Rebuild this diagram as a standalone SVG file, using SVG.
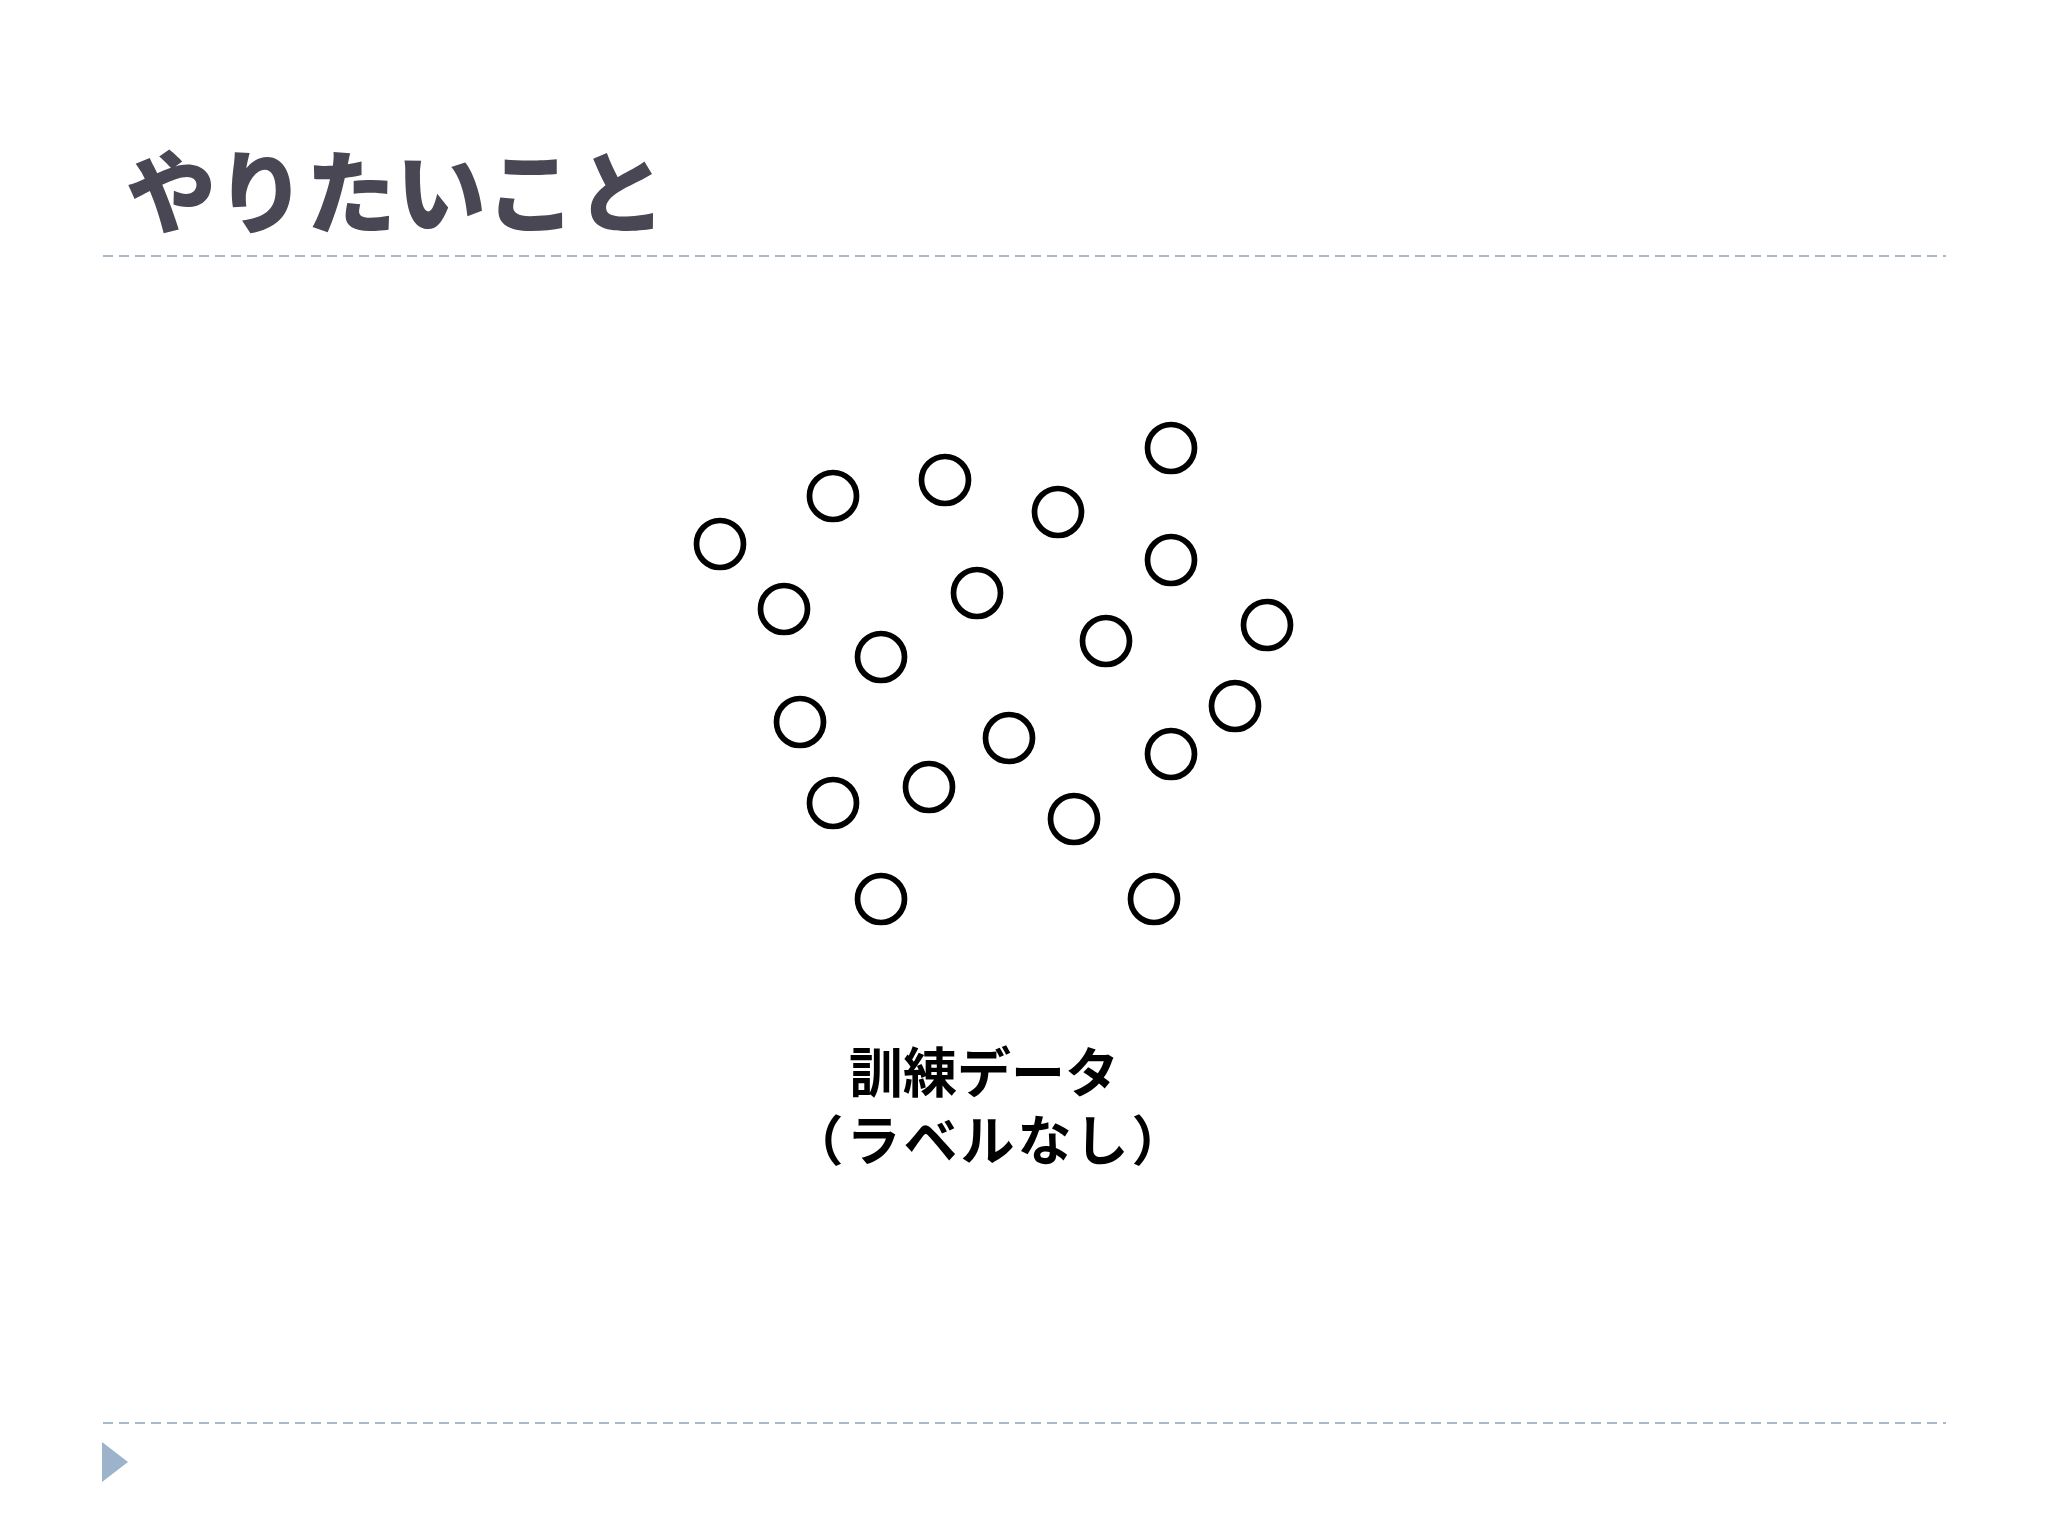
<svg xmlns="http://www.w3.org/2000/svg" width="2048" height="1536" viewBox="0 0 2048 1536">
<style>
.title{font-family:"Noto Sans CJK JP","Noto Sans",sans-serif;font-weight:900;font-size:90px;fill:#484753}
.lbl{font-family:"Noto Sans CJK JP","Noto Sans",sans-serif;font-weight:700;font-size:54px;fill:#000;text-anchor:middle}
.rule{stroke:#a9b9c9;stroke-width:2;stroke-dasharray:10 6;fill:none}
.pt{fill:none;stroke:#000;stroke-width:5.7}
</style>
<rect width="2048" height="1536" fill="#fff"/>
<text class="title" x="126" y="226">やりたいこと</text>
<line class="rule" x1="103" y1="256" x2="1946" y2="256"/>
<line class="rule" x1="103" y1="1423" x2="1946" y2="1423"/>
<polygon points="102,1442 128,1462 102,1482" fill="#9cb3cb"/>
<g id="points">
<circle id="p1" class="pt" cx="1171" cy="448" r="23.5"/>
<circle id="p2" class="pt" cx="945" cy="480" r="23.5"/>
<circle id="p3" class="pt" cx="833" cy="496" r="23.5"/>
<circle id="p4" class="pt" cx="1058" cy="512" r="23.5"/>
<circle id="p5" class="pt" cx="720" cy="544" r="23.5"/>
<circle id="p6" class="pt" cx="1171" cy="560" r="23.5"/>
<circle id="p7" class="pt" cx="977" cy="593" r="23.5"/>
<circle id="p8" class="pt" cx="784" cy="609" r="23.5"/>
<circle id="p9" class="pt" cx="1267" cy="625" r="23.5"/>
<circle id="p10" class="pt" cx="1106" cy="641" r="23.5"/>
<circle id="p11" class="pt" cx="881" cy="657" r="23.5"/>
<circle id="p12" class="pt" cx="1235" cy="706" r="23.5"/>
<circle id="p13" class="pt" cx="800" cy="722" r="23.5"/>
<circle id="p14" class="pt" cx="1009" cy="738" r="23.5"/>
<circle id="p15" class="pt" cx="1171" cy="754" r="23.5"/>
<circle id="p16" class="pt" cx="929" cy="787" r="23.5"/>
<circle id="p17" class="pt" cx="833" cy="803" r="23.5"/>
<circle id="p18" class="pt" cx="1074" cy="819" r="23.5"/>
<circle id="p19" class="pt" cx="881" cy="899" r="23.5"/>
<circle id="p20" class="pt" cx="1154" cy="899" r="23.5"/>
</g>
<g id="label">
<text class="lbl"><tspan x="984" y="1093">訓練データ</tspan><tspan x="989" y="1161" letter-spacing="3">（ラベルなし）</tspan></text>
</g>
</svg>
